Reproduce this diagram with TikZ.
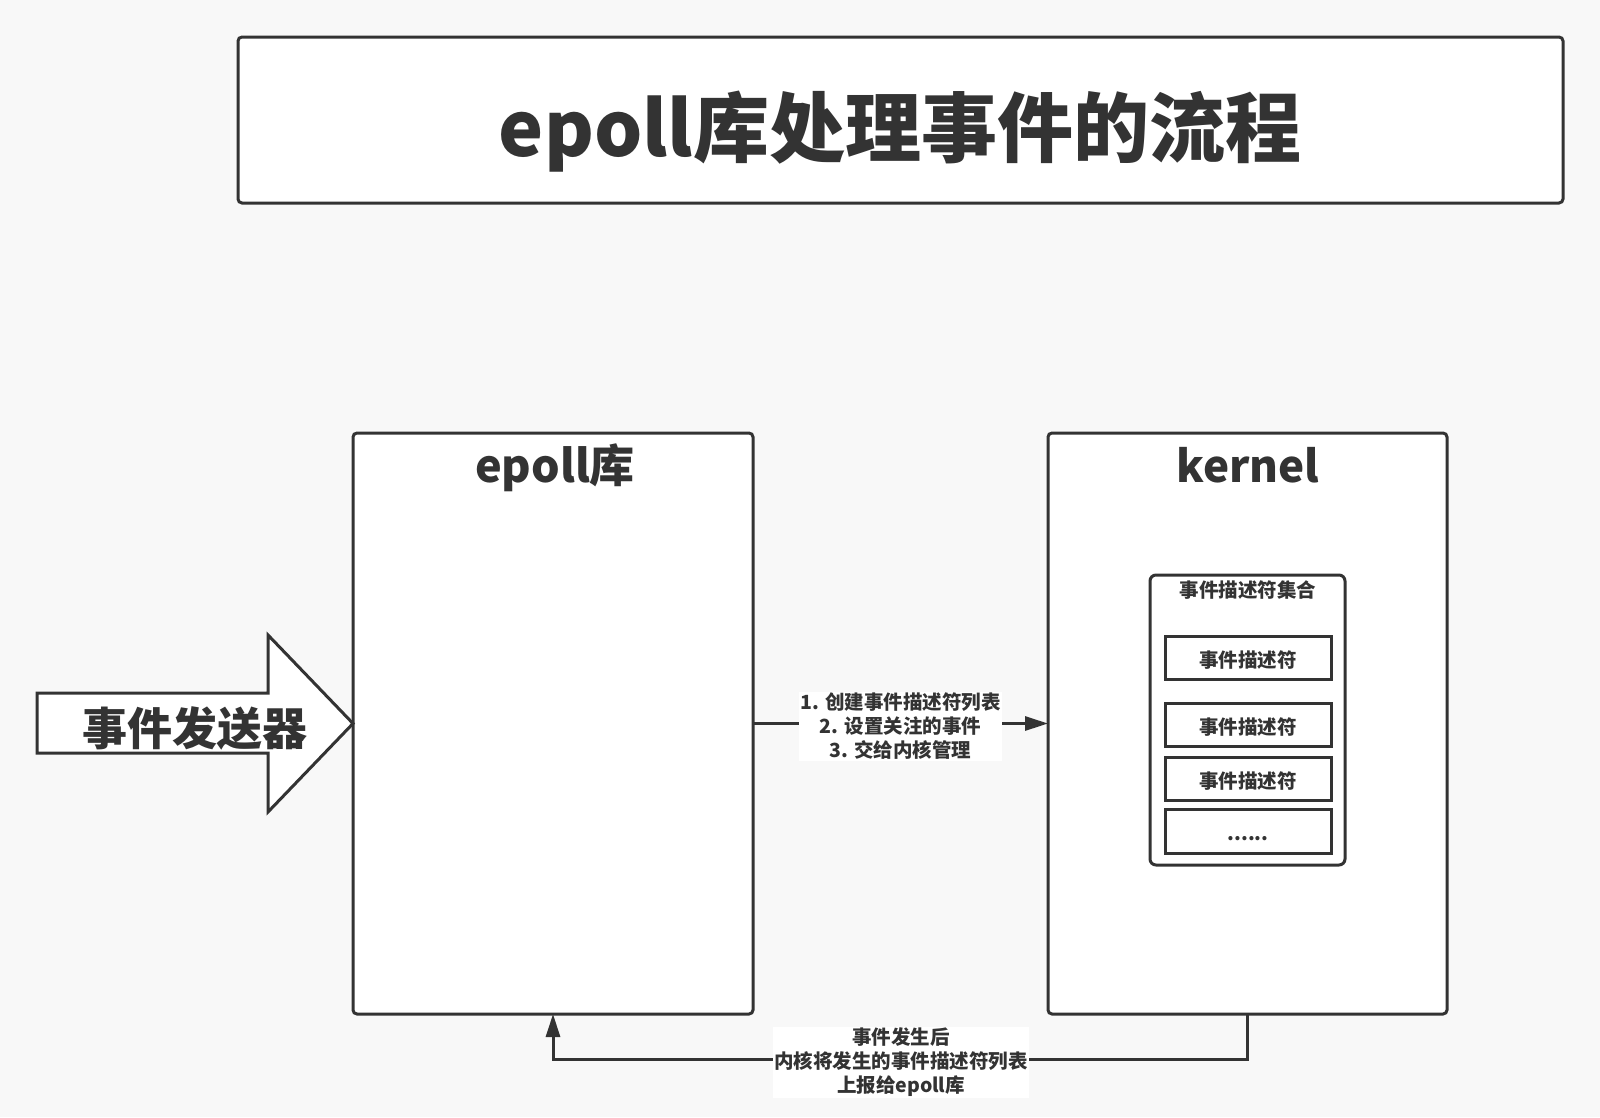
\documentclass[tikz,border=0pt]{standalone}
\usepackage{fontspec}
\setmainfont{Noto Sans CJK SC}
\usetikzlibrary{arrows.meta}
\definecolor{ink}{HTML}{333333}
\definecolor{bg}{HTML}{F8F8F8}
\tikzset{
  box/.style={draw=ink, line width=3pt, fill=white, rounded corners=4pt, inner sep=0pt, outer sep=0pt},
  subbox/.style={draw=ink, line width=3pt, fill=white, inner sep=0pt, outer sep=0pt, minimum width=166pt, minimum height=43pt, text=ink, font=\fontsize{19.5}{24}\selectfont\bfseries},
  subtxt/.style={text=ink, inner sep=0pt, font=\fontsize{19.5}{24}\selectfont\bfseries},
  lbl/.style={fill=white, text=ink, align=center, inner sep=1.5pt, font=\fontsize{19.5}{24}\selectfont\bfseries},
  head/.style={text=ink, anchor=base, inner sep=0pt},
  conn/.style={draw=ink, line width=3pt, -{Triangle[length=23pt,width=14pt]}},
}
\begin{document}
\begin{tikzpicture}[x=1pt,y=-1pt]
\fill[bg] (0,0) rectangle (1600,1117);
\useasboundingbox (0,0) rectangle (1600,1117);
% title
\node[box, minimum width=1325pt, minimum height=166pt] (titlebox) at (900.5,120) {};
\node[text=ink, anchor=base, inner sep=0pt, font=\fontsize{76}{90}\selectfont\bfseries] (title) at (900,156) {epoll库处理事件的流程};
% main boxes
\node[box, minimum width=400pt, minimum height=581pt] (epoll) at (553,723.5) {};
\node[box, minimum width=399pt, minimum height=581pt] (kernel) at (1247.5,723.5) {};
\node[head, font=\fontsize{45}{54}\selectfont\bfseries] (epolltxt) at (555,482) {epoll库};
\node[head, font=\fontsize{44}{54}\selectfont\bfseries] (kerneltxt) at (1248,482) {kernel};
% descriptor set
\node[box, rounded corners=6pt, minimum width=195pt, minimum height=290pt] (set) at (1247.5,720) {};
\node[text=ink, anchor=base, inner sep=0pt, font=\fontsize{19.5}{24}\selectfont\bfseries] (settxt) at (1248,597) {事件描述符集合};
\node[subbox] (d1) at (1248,657.5) {};
\node[subbox] (d2) at (1248,724.5) {};
\node[subbox] (d3) at (1248,778.5) {};
\node[subbox, minimum height=44pt] (d4) at (1248,831) {};
\node[subtxt] (t1) at ([yshift=-3pt]d1.center) {事件描述符};
\node[subtxt] (t2) at ([yshift=-3pt]d2.center) {事件描述符};
\node[subtxt] (t3) at ([yshift=-3pt]d3.center) {事件描述符};
\node[subtxt] (t4) at ([yshift=-8pt]d4.center) {......};
% block arrow
\draw[draw=ink, line width=3pt, fill=white, line join=miter]
  (37,693) -- (268,693) -- (268,635) -- (epoll.west) -- (268,812) -- (268,753) -- (37,753) -- cycle;
\node[text=ink, anchor=base, inner sep=0pt, font=\fontsize{45}{54}\selectfont\bfseries] (sender) at (195,745) {事件发送器};
% connectors
\draw[conn] (epoll.east) -- (kernel.west)
  node[lbl, midway, yshift=-3pt] (l1) {1. 创建事件描述符列表\\2. 设置关注的事件\\3. 交给内核管理};
\draw[conn] (kernel.south) -- ++(0,45) -| (epoll.south);
\node[lbl, yshift=-3.5pt] (l2) at (901,1059) {事件发生后\\内核将发生的事件描述符列表\\上报给epoll库};
\end{tikzpicture}
\end{document}
